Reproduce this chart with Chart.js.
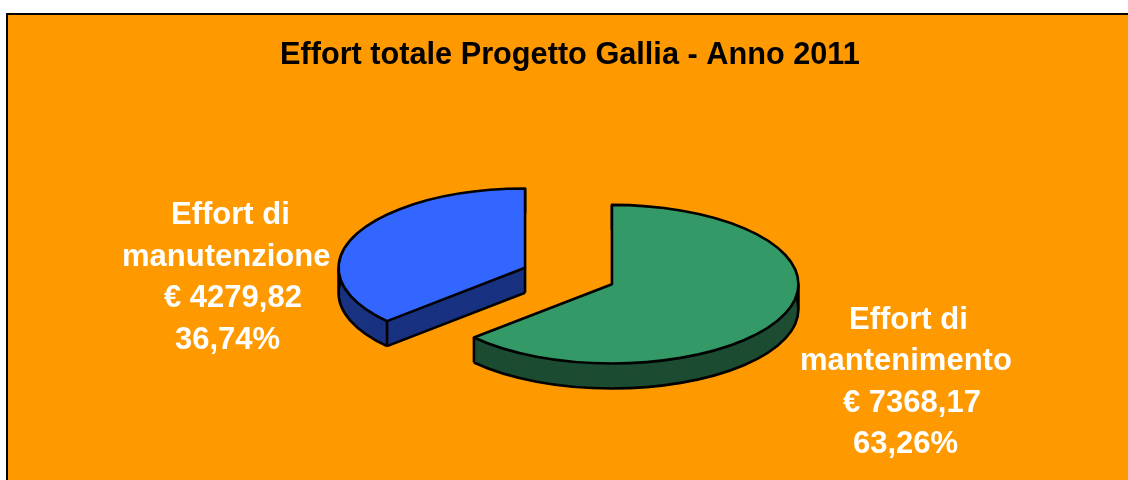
<!DOCTYPE html>
<html>
<head>
<meta charset="utf-8">
<script src="https://cdn.jsdelivr.net/npm/chart.js@4"></script>
<style>
html, body { margin: 0; padding: 0; background: #fff; overflow: hidden; }
canvas { display: block; }
</style>
</head>
<body>
<canvas id="pieChart" width="1128" height="480"></canvas>
<script>
var titleText = 'Effort totale Progetto Gallia - Anno 2011';
var categories = ['Effort di mantenimento', 'Effort di manutenzione'];
var amounts = [7368.17, 4279.82];
var percents = ['63,26%', '36,74%'];
var amountLabels = ['€ 7368,17', '€ 4279,82'];
var topColors = ['#339966', '#3366ff'];
var sideColors = ['#1d4d33', '#1a3380'];

var squash = 0.425;
var depth = 25;
var centerY = 276;
var explode = 47.5;
var lineWidth = 2.6;

function tilt(chart) {
    var ctx = chart.ctx;
    var midY = (chart.chartArea.top + chart.chartArea.bottom) / 2;
    ctx.translate(0, centerY);
    ctx.scale(1, squash);
    ctx.translate(0, -midY);
}

function contains(arc, angle) {
    var a = angle;
    while (a < arc.startAngle) a += Math.PI * 2;
    return a <= arc.endAngle;
}

// background and frame
var framePlugin = {
    id: 'frame',
    beforeDraw: function (chart) {
        var ctx = chart.ctx;
        ctx.save();
        ctx.fillStyle = '#ff9900';
        ctx.fillRect(6, 13, 1122, 467);
        ctx.strokeStyle = '#000';
        ctx.lineWidth = 2;
        ctx.beginPath();
        ctx.moveTo(7, 480);
        ctx.lineTo(7, 14);
        ctx.lineTo(1128, 14);
        ctx.stroke();
        ctx.restore();
    }
};

// flatten the pie, pull the slices apart and give them a rim
var tiltPlugin = {
    id: 'tilt',
    afterDatasetsUpdate: function (chart) {
        chart.getDatasetMeta(0).data.forEach(function (arc) {
            var half = (arc.startAngle + arc.endAngle) / 2;
            arc.x += Math.cos(half) * explode;
            arc.y += Math.sin(half) * explode;
        });
    },
    beforeDatasetsDraw: function (chart) {
        var ctx = chart.ctx;
        var arcs = chart.getDatasetMeta(0).data;
        var layers = depth / squash;

        arcs.forEach(function (arc, i) {
            var r = arc.outerRadius;

            ctx.save();
            tilt(chart);
            ctx.fillStyle = sideColors[i];
            for (var d = layers; d >= 0; d -= 1) {
                ctx.beginPath();
                ctx.moveTo(arc.x, arc.y + d);
                ctx.arc(arc.x, arc.y + d, r, arc.startAngle, arc.endAngle);
                ctx.closePath();
                ctx.fill();
            }

            // front edges of the rim
            ctx.beginPath();
            ctx.arc(arc.x, arc.y + layers, r, arc.startAngle, arc.endAngle);
            if (Math.cos(arc.startAngle) < 0) {
                ctx.moveTo(arc.x + Math.cos(arc.startAngle) * r, arc.y + layers + Math.sin(arc.startAngle) * r);
                ctx.lineTo(arc.x, arc.y + layers);
            }
            var uprights = [arc.startAngle, arc.endAngle];
            [0, Math.PI].forEach(function (a) {
                if (contains(arc, a)) uprights.push(a);
            });
            uprights.forEach(function (a) {
                var px = arc.x + Math.cos(a) * r;
                var py = arc.y + Math.sin(a) * r;
                ctx.moveTo(px, py);
                ctx.lineTo(px, py + layers);
            });
            ctx.moveTo(arc.x, arc.y);
            ctx.lineTo(arc.x, arc.y + layers);
            ctx.restore();
            ctx.strokeStyle = '#000';
            ctx.lineWidth = lineWidth;
            ctx.lineJoin = 'round';
            ctx.stroke();
        });

        ctx.save();
        tilt(chart);
    },
    afterDatasetsDraw: function (chart) {
        var ctx = chart.ctx;
        var arcs = chart.getDatasetMeta(0).data;
        ctx.restore();

        // outline of the top faces, stroked outside the squash so the width stays even
        arcs.forEach(function (arc) {
            ctx.save();
            tilt(chart);
            ctx.beginPath();
            ctx.moveTo(arc.x, arc.y);
            ctx.arc(arc.x, arc.y, arc.outerRadius, arc.startAngle, arc.endAngle);
            ctx.closePath();
            ctx.restore();
            ctx.strokeStyle = '#000';
            ctx.lineWidth = lineWidth;
            ctx.lineJoin = 'round';
            ctx.stroke();
        });
    }
};

// title and slice labels
var labelPlugin = {
    id: 'sliceLabels',
    afterDraw: function (chart) {
        var ctx = chart.ctx;
        ctx.save();
        ctx.textBaseline = 'middle';
        ctx.textAlign = 'left';
        ctx.fillStyle = '#000';
        ctx.font = 'bold 30.7px "Liberation Sans"';
        ctx.fillText(titleText, 280, 56);
        ctx.fillStyle = '#fff';
        ctx.font = 'bold 31px "Liberation Sans"';
        var green = categories[0].split(' ');
        var blue = categories[1].split(' ');
        ctx.fillText(blue[0] + ' ' + blue[1], 171, 215);
        ctx.fillText(blue[2], 122, 257);
        ctx.fillText(amountLabels[1], 164, 298);
        ctx.fillText(percents[1], 175, 340);
        ctx.fillText(green[0] + ' ' + green[1], 849, 320);
        ctx.fillText(green[2], 800, 361);
        ctx.fillText(amountLabels[0], 843, 403);
        ctx.fillText(percents[0], 853, 444);
        ctx.restore();
    }
};

var pieChart = new Chart('pieChart', {
    type: 'pie',
    data: {
        labels: categories,
        datasets: [{
            data: amounts,
            backgroundColor: topColors,
            borderWidth: 0
        }]
    },
    options: {
        responsive: false,
        animation: false,
        radius: 186.5,
        layout: { padding: { left: 9 } },
        plugins: {
            legend: { display: false },
            tooltip: { enabled: false }
        }
    },
    plugins: [framePlugin, tiltPlugin, labelPlugin]
});
</script>
</body>
</html>
